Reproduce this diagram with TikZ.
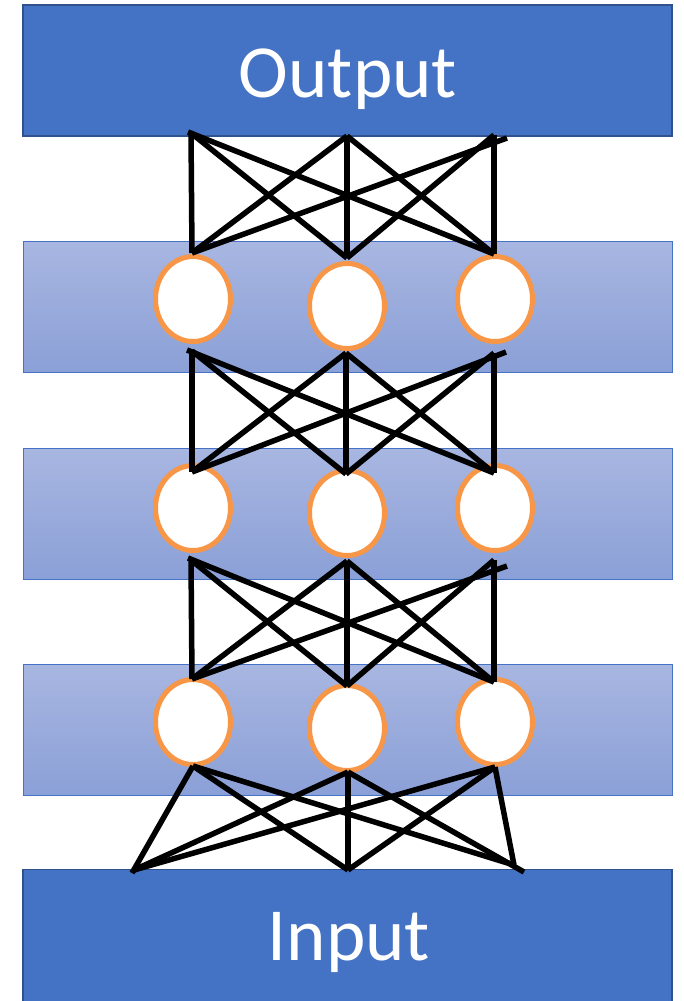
\documentclass[tikz,border=0pt]{standalone}
\usepackage{fontspec}
\setmainfont{Carlito}
\usetikzlibrary{shapes.geometric}
\definecolor{iofill}{RGB}{68,114,196}
\definecolor{ioedge}{RGB}{47,82,143}
\definecolor{bandtop}{RGB}{168,182,225}
\definecolor{bandbot}{RGB}{139,160,215}
\definecolor{neuronedge}{RGB}{247,150,70}
\begin{document}
\begin{tikzpicture}[x=1pt,y=-1pt,
  iobox/.style={draw=ioedge, fill=iofill, line width=1.5pt, minimum width=649pt, minimum height=131pt, inner sep=0pt},
  band/.style={draw=iofill, top color=bandtop, bottom color=bandbot, line width=0.8pt, minimum width=649pt, minimum height=131pt, inner sep=0pt},
  iotext/.style={text=white, font=\fontsize{75}{82}\selectfont, anchor=base, inner sep=0pt},
  neuron/.style={ellipse, draw=neuronedge, fill=white, line width=5pt, minimum width=75pt, minimum height=85pt, inner sep=0pt},
  wire/.style={line width=5.5pt, black}]
\useasboundingbox (0,0) rectangle (684,1001);

% input / output blocks and hidden-layer bands
\node[iobox] (out) at (347.5,70.5) {};
\node[iotext] (outtxt) at (348,97) {Output};
\node[band] (h1) at (347.5,306.5) {};
\node[band] (h2) at (347.5,513.5) {};
\node[band] (h3) at (347.5,729.5) {};
\node[iobox, minimum height=134pt] (in) at (347.5,936.5) {};
\node[iotext] (intxt) at (349,960) {Input};

% neurons
\foreach \r/\y/\ym in {1/299/306, 2/508/513, 3/722/728}{
  \node[neuron] (n\r1) at (193,\y) {};
  \node[neuron] (n\r2) at (347,\ym) {};
  \node[neuron] (n\r3) at (495,\y) {};
}

% connector end points: output layer -> layer 1
\coordinate (oa) at (191,133);
\coordinate (oas) at (188,132);
\coordinate (ob) at (347,136);
\coordinate (oc) at (494,135);
\coordinate (ocs) at (507,138);
\coordinate (p1t) at (192,253);
\coordinate (p2t) at (347,258);
\coordinate (p3t) at (494,254);
% layer 1 -> layer 2
\coordinate (p1b) at (192,351);
\coordinate (p1bs) at (187,350);
\coordinate (p2b) at (346,353);
\coordinate (p3b) at (494,353);
\coordinate (p3bs) at (506,352);
\coordinate (q1t) at (192,472);
\coordinate (q2t) at (346,474);
\coordinate (q3t) at (494,473);
% layer 2 -> layer 3
\coordinate (q1b) at (191,560);
\coordinate (q1bs) at (188,558);
\coordinate (q2b) at (347,561);
\coordinate (q3b) at (494,560);
\coordinate (q3bs) at (507,566);
\coordinate (r1t) at (192,679);
\coordinate (r2t) at (347,686);
\coordinate (r3t) at (494,682);
% layer 3 -> input layer
\coordinate (r1b) at (193,766);
\coordinate (r2b) at (348,772);
\coordinate (r3b) at (495,767);
\coordinate (ia) at (134,870);
\coordinate (ias) at (132,873);
\coordinate (ib) at (348,870);
\coordinate (ic) at (514,865);
\coordinate (ics) at (524,872);

% fully connected wiring
\draw[wire] (oa) -- (p1t);
\draw[wire] (oa) -- (p2t);
\draw[wire] (oas) -- (p3t);
\draw[wire] (ob) -- (p1t);
\draw[wire] (ob) -- (p2t);
\draw[wire] (ob) -- (p3t);
\draw[wire] (ocs) -- (p1t);
\draw[wire] (oc) -- (p2t);
\draw[wire] (oc) -- (p3t);

\draw[wire] (p1b) -- (q1t);
\draw[wire] (p1b) -- (q2t);
\draw[wire] (p1bs) -- (q3t);
\draw[wire] (p2b) -- (q1t);
\draw[wire] (p2b) -- (q2t);
\draw[wire] (p2b) -- (q3t);
\draw[wire] (p3bs) -- (q1t);
\draw[wire] (p3b) -- (q2t);
\draw[wire] (p3b) -- (q3t);

\draw[wire] (q1b) -- (r1t);
\draw[wire] (q1b) -- (r2t);
\draw[wire] (q1bs) -- (r3t);
\draw[wire] (q2b) -- (r1t);
\draw[wire] (q2b) -- (r2t);
\draw[wire] (q2b) -- (r3t);
\draw[wire] (q3bs) -- (r1t);
\draw[wire] (q3b) -- (r2t);
\draw[wire] (q3b) -- (r3t);

\draw[wire] (r1b) -- (ias);
\draw[wire] (r1b) -- (ib);
\draw[wire] (r1b) -- (ic);
\draw[wire] (r2b) -- (ia);
\draw[wire] (r2b) -- (ib);
\draw[wire] (r2b) -- (ics);
\draw[wire] (r3b) -- (ia);
\draw[wire] (r3b) -- (ib);
\draw[wire] (r3b) -- (ic);
\end{tikzpicture}
\end{document}
